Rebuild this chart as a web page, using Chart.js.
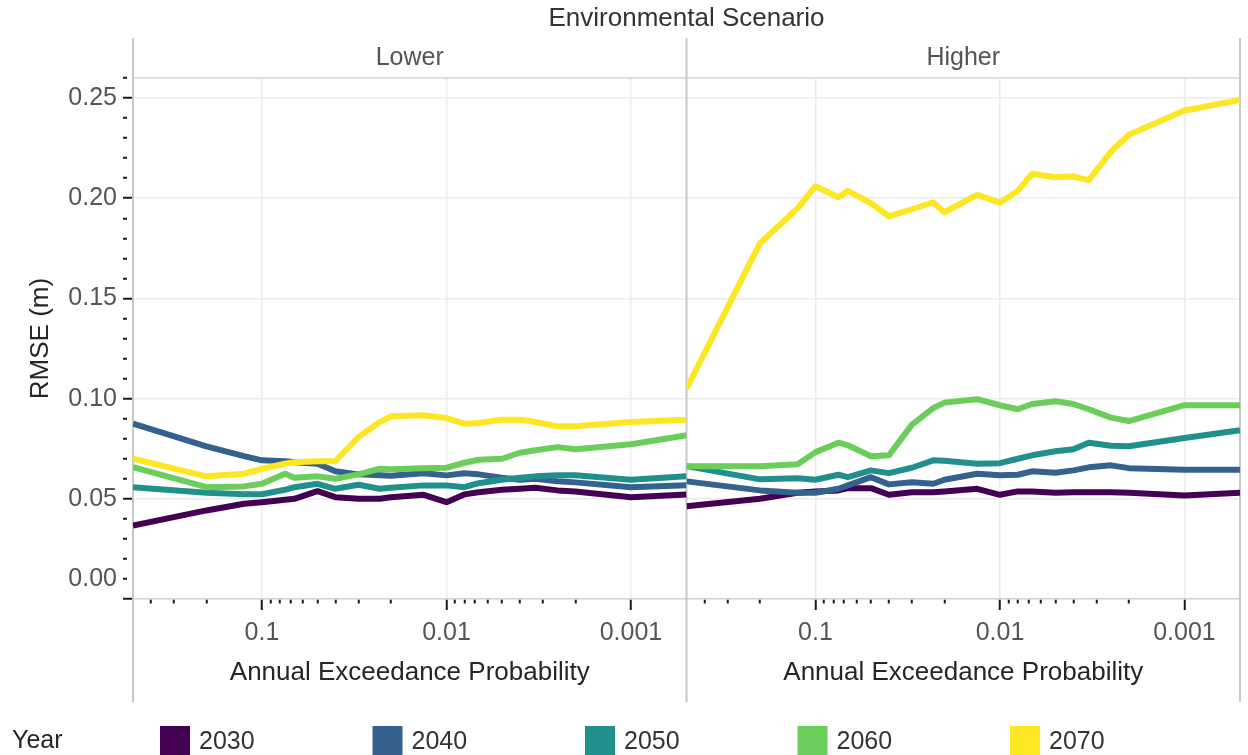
<!DOCTYPE html>
<html>
<head>
<meta charset="utf-8">
<title>RMSE by Annual Exceedance Probability</title>
<script src="https://cdn.jsdelivr.net/npm/chart.js@4.4.1/dist/chart.umd.min.js"></script>
<style>
  html, body { margin: 0; padding: 0; background: #fff; }
  #wrap { width: 1248px; height: 755px; }
</style>
</head>
<body>
<div id="wrap"><canvas id="chart" width="1248" height="755"></canvas></div>
<script>
// -------- Data ----------
const aep = [0.5, 0.2, 0.125, 0.1, 0.075, 0.0667, 0.05, 0.04, 0.03, 0.023, 0.02,
             0.0133, 0.01, 0.008, 0.0067, 0.005, 0.004, 0.0033, 0.0025, 0.002, 0.001, 0.0005];

const years = ["2030", "2040", "2050", "2060", "2070"];
const yearColors = ["#440154", "#35618E", "#21908C", "#6BCD5A", "#FDE725"];
const panels = ["Lower", "Higher"];

// Lower scenario
const lower2030 = [0.0367, 0.0442, 0.0475, 0.0483, 0.0495, 0.0500, 0.0538, 0.0508, 0.0500, 0.0500, 0.0508,
                   0.0520, 0.0483, 0.0522, 0.0533, 0.0545, 0.0550, 0.0555, 0.0542, 0.0537, 0.0508, 0.0522];
const lower2040 = [0.0875, 0.0762, 0.0713, 0.0692, 0.0688, 0.0682, 0.0675, 0.0638, 0.0622, 0.0617, 0.0615,
                   0.0628, 0.0617, 0.0628, 0.0622, 0.0605, 0.0595, 0.0600, 0.0588, 0.0582, 0.0558, 0.0568];
const lower2050 = [0.0558, 0.0530, 0.0523, 0.0523, 0.0545, 0.0558, 0.0575, 0.0550, 0.0570, 0.0550, 0.0555,
                   0.0567, 0.0567, 0.0558, 0.0578, 0.0595, 0.0605, 0.0612, 0.0617, 0.0617, 0.0595, 0.0612];
const lower2060 = [0.0658, 0.0558, 0.0562, 0.0575, 0.0625, 0.0605, 0.0612, 0.0600, 0.0622, 0.0650, 0.0648,
                   0.0652, 0.0655, 0.0680, 0.0695, 0.0700, 0.0730, 0.0742, 0.0758, 0.0747, 0.0772, 0.0817];
const lower2070 = [0.0700, 0.0612, 0.0625, 0.0650, 0.0675, 0.0683, 0.0688, 0.0688, 0.0808, 0.0883, 0.0912,
                   0.0917, 0.0903, 0.0875, 0.0878, 0.0895, 0.0895, 0.0883, 0.0862, 0.0862, 0.0883, 0.0895];

// Higher scenario
const higher2030 = [0.0463, 0.0500, 0.0530, 0.0537, 0.0542, 0.0553, 0.0553, 0.0520, 0.0533, 0.0533, 0.0537,
                    0.0550, 0.0520, 0.0537, 0.0537, 0.0530, 0.0533, 0.0533, 0.0533, 0.0530, 0.0517, 0.0530];
const higher2040 = [0.0587, 0.0542, 0.0530, 0.0530, 0.0550, 0.0567, 0.0608, 0.0572, 0.0583, 0.0575, 0.0595,
                    0.0625, 0.0617, 0.0620, 0.0637, 0.0630, 0.0642, 0.0657, 0.0667, 0.0653, 0.0645, 0.0645];
const higher2050 = [0.0663, 0.0597, 0.0603, 0.0595, 0.0620, 0.0608, 0.0642, 0.0628, 0.0655, 0.0692, 0.0690,
                    0.0675, 0.0678, 0.0700, 0.0717, 0.0737, 0.0747, 0.0780, 0.0765, 0.0762, 0.0803, 0.0842];
const higher2060 = [0.0663, 0.0662, 0.0672, 0.0733, 0.0780, 0.0767, 0.0712, 0.0717, 0.0870, 0.0953, 0.0980,
                    0.0997, 0.0967, 0.0947, 0.0973, 0.0987, 0.0973, 0.0947, 0.0905, 0.0888, 0.0967, 0.0967];
const higher2070 = [0.1050, 0.1775, 0.1950, 0.2060, 0.2005, 0.2037, 0.1975, 0.1910, 0.1945, 0.1980, 0.1930,
                    0.2017, 0.1978, 0.2037, 0.2122, 0.2105, 0.2108, 0.2090, 0.2233, 0.2317, 0.2438, 0.2490];

const lowerSeries = [lower2030, lower2040, lower2050, lower2060, lower2070];
const higherSeries = [higher2030, higher2040, higher2050, higher2060, higher2070];

// axis ticks
const xMin = 0.0005, xMax = 0.5;
const xTickValues = [0.1, 0.01, 0.001];
const xTickLabels = ["0.1", "0.01", "0.001"];
const yTickValues = [0.01, 0.05, 0.10, 0.15, 0.20, 0.25];
const yTickLabels = ["0.00", "0.05", "0.10", "0.15", "0.20", "0.25"];

// -------- Helpers ----------
const FONT = '"Liberation Sans", Arial, Helvetica, sans-serif';
const CLEAR = "rgba(0,0,0,0)";

const near = (a, b) => Math.abs(a - b) < 1e-9;
function isDecade(v) {
  const e = Math.log10(v);
  return Math.abs(e - Math.round(e)) < 1e-6;
}
function showXTick(v) {
  const m = v / Math.pow(10, Math.floor(Math.log10(v) + 1e-9));
  const whole = Math.abs(m - Math.round(m)) < 1e-6;
  return whole && v > 0.00099 && v < 0.45;
}
function xLabel(v) {
  const i = xTickValues.findIndex(t => Math.abs(Math.log10(t) - Math.log10(v)) < 1e-6);
  return i >= 0 ? xTickLabels[i] : "";
}
function yLabel(v) {
  const i = yTickValues.findIndex(t => near(t, v));
  return i >= 0 ? yTickLabels[i] : "";
}
const isYMajor = (v) => Math.abs(Math.round(v * 100) % 5) === 0;

// -------- Datasets ----------
const datasets = [];
years.forEach((yr, i) => {
  const style = {
    borderColor: yearColors[i], backgroundColor: yearColors[i],
    borderWidth: 6, pointRadius: 0, tension: 0, fill: false,
    borderJoinStyle: "round", order: years.length - i, yAxisID: "y"
  };
  datasets.push({ ...style, label: yr, panel: panels[0], xAxisID: "xLower",
    data: aep.map((p, k) => ({ x: p, y: lowerSeries[i][k] })) });
  datasets.push({ ...style, label: yr, panel: panels[1], xAxisID: "xHigher",
    data: aep.map((p, k) => ({ x: p, y: higherSeries[i][k] })) });
});

function xScale() {
  return {
    type: "logarithmic", position: "bottom", stack: "aep", stackWeight: 1,
    reverse: true, min: xMin, max: xMax,
    afterFit: s => { s.height = 100; },
    border: { display: true, color: "#d0d0d0", width: 1.5 },
    grid: {
      color: c => (c.tick && isDecade(c.tick.value)) ? "#ebebeb" : CLEAR,
      lineWidth: 1.5,
      tickLength: 11,
      tickWidth: 2,
      tickColor: c => (c.tick && showXTick(c.tick.value)) ? "#1a1a1a" : CLEAR,
      tickBorderDash: c => (c.tick && isDecade(c.tick.value)) ? [] : [4, 40]
    },
    ticks: {
      autoSkip: false, maxRotation: 0, minRotation: 0, padding: 8,
      color: "#555", font: { size: 25 },
      callback: v => xLabel(v)
    },
    title: {
      display: true, text: "Annual Exceedance Probability",
      color: "#262626", font: { size: 26 }, padding: { top: 0, bottom: 11 }
    }
  };
}

// -------- Facet strips, panel frame, legend ----------
const facetDecor = {
  id: "facetDecor",
  beforeDatasetsDraw(chart) {
    const { ctx, chartArea, scales } = chart;
    ctx.save();
    ctx.strokeStyle = "#d6d6d6";
    ctx.lineWidth = 1.5;
    ctx.beginPath();
    ctx.moveTo(chartArea.left, chartArea.top);
    ctx.lineTo(chartArea.right, chartArea.top);
    ctx.stroke();
    ctx.strokeStyle = "#c8c8c8";
    ctx.lineWidth = 2;
    [chartArea.left, scales.xLower.right, chartArea.right].forEach(x => {
      ctx.beginPath();
      ctx.moveTo(x, chartArea.top - 40);
      ctx.lineTo(x, chartArea.bottom + 103);
      ctx.stroke();
    });
    ctx.restore();
  },
  afterDraw(chart) {
    const { ctx, chartArea, scales } = chart;
    ctx.save();
    ctx.font = "25px " + FONT;
    ctx.textBaseline = "middle";
    ctx.textAlign = "center";
    ctx.fillStyle = "#555";
    [scales.xLower, scales.xHigher].forEach((s, i) => {
      ctx.fillText(panels[i], (s.left + s.right) / 2, chartArea.top - 20);
    });

    // legend row
    const ly = chartArea.bottom + 142;
    ctx.textAlign = "left";
    ctx.fillStyle = "#262626";
    ctx.fillText("Year", 12, ly);
    const items = chart.data.datasets.filter(d => d.panel === panels[0]);
    items.forEach((d, i) => {
      const x0 = 160 + i * 212.5;
      ctx.fillStyle = d.borderColor;
      ctx.fillRect(x0, ly - 15, 30, 30);
      ctx.fillStyle = "#333";
      ctx.fillText(d.label, x0 + 39, ly + 1);
    });
    ctx.restore();
  }
};

// -------- Chart ----------
Chart.defaults.font.family = FONT;

new Chart(document.getElementById("chart").getContext("2d"), {
  type: "line",
  data: { datasets },
  options: {
    responsive: false,
    animation: false,
    devicePixelRatio: 1,
    layout: { padding: { top: 0, right: 8, bottom: 56, left: 0 } },
    plugins: {
      legend: { display: false },
      tooltip: { enabled: false },
      title: {
        display: true, text: "Environmental Scenario", fullSize: false,
        color: "#333", font: { size: 26, weight: "normal" },
        padding: { top: 3, bottom: 43.8 }
      }
    },
    scales: {
      xLower: xScale(),
      xHigher: xScale(),
      y: {
        type: "linear", position: "left", min: 0, max: 0.26,
        afterFit: s => { s.width = 133; },
        border: { display: false },
        grid: {
          color: c => (c.tick && c.tick.value > 0.001 && isYMajor(c.tick.value)) ? "#ebebeb" : CLEAR,
          lineWidth: 1.5,
          tickLength: 10,
          tickWidth: 2,
          tickColor: "#1a1a1a",
          tickBorderDash: c => (c.tick && isYMajor(c.tick.value)) ? [] : [4, 40]
        },
        ticks: {
          stepSize: 0.01, autoSkip: false, padding: 6,
          color: "#555", font: { size: 25 },
          callback: v => yLabel(v)
        },
        title: {
          display: true, text: "RMSE (m)", color: "#262626",
          font: { size: 26 }, padding: { top: 25, bottom: 0 }
        }
      }
    }
  },
  plugins: [facetDecor]
});
</script>
</body>
</html>
